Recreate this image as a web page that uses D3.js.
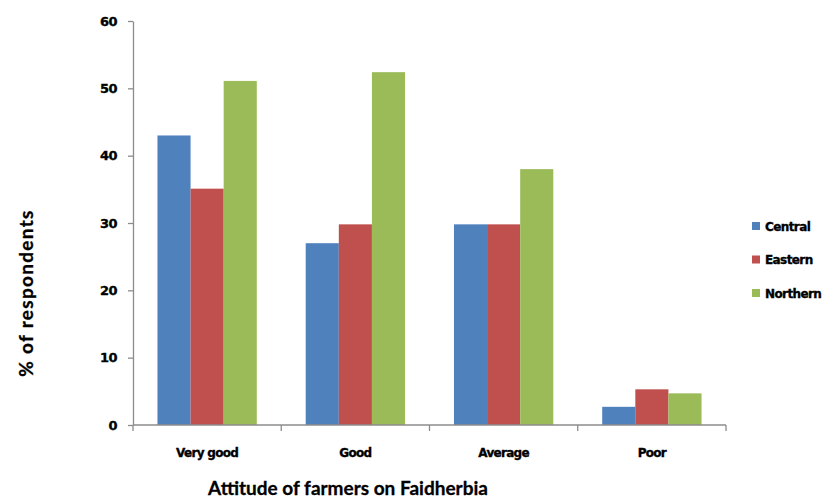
<!DOCTYPE html>
<html>
<head>
<meta charset="utf-8">
<script src="https://cdn.jsdelivr.net/npm/d3@7"></script>
<style>
  html, body { margin: 0; padding: 0; background: #fff; }
  svg { display: block; }
</style>
</head>
<body>
<svg id="chart" width="836" height="500"></svg>
<script>
// Survey responses: attitude of farmers towards Faidherbia, by region
const categories = ["Very good", "Good", "Average", "Poor"];
const seriesNames = ["Central", "Eastern", "Northern"];
const central  = [43.0, 27.0, 29.8, 2.7];
const eastern  = [35.1, 29.8, 29.8, 5.3];
const northern = [51.1, 52.4, 38.0, 4.7];
const yTicks = [0, 10, 20, 30, 40, 50, 60];
const colors = ["#4F81BD", "#C0504D", "#9BBB59"];

const seriesValues = [central, eastern, northern];

const svg = d3.select("#chart");
const plotLeft = 133, plotRight = 726, plotTop = 21, plotBottom = 425;
const axisColor = "#8c8c8c";

const x0 = d3.scaleBand()
  .domain(categories)
  .range([plotLeft, plotRight])
  .paddingInner(0.33)
  .paddingOuter(0.165);

const x1 = d3.scaleBand()
  .domain(seriesNames)
  .range([0, x0.bandwidth()]);

const y = d3.scaleLinear().domain([0, 60]).range([plotBottom, plotTop]);

// Bars
const groups = svg.append("g")
  .selectAll("g")
  .data(categories)
  .join("g")
  .attr("transform", d => `translate(${x0(d)},0)`);

groups.selectAll("rect")
  .data((c, i) => seriesNames.map((s, j) => ({ s, v: seriesValues[j][i], j })))
  .join("rect")
  .attr("x", d => x1(d.s))
  .attr("width", x1.bandwidth())
  .attr("y", d => y(d.v))
  .attr("height", d => y(0) - y(d.v))
  .attr("fill", d => colors[d.j]);

// Heavy label style shared by tick labels and legend
function heavy(sel, size, spacing) {
  sel.attr("fill", "#000")
    .attr("stroke", "#000")
    .attr("stroke-width", 0.35)
    .style("font-family", "'DejaVu Sans', sans-serif")
    .style("font-weight", "bold")
    .style("font-size", size + "px")
    .style("letter-spacing", spacing + "px");
}

// Y axis
const yAxis = svg.append("g")
  .attr("transform", `translate(${plotLeft},0)`)
  .call(d3.axisLeft(y).tickValues(yTicks).tickSize(5).tickPadding(11).tickSizeOuter(0));
yAxis.select(".domain").attr("stroke", axisColor).attr("stroke-width", 1.3);
yAxis.selectAll(".tick line").attr("stroke", axisColor).attr("stroke-width", 1.3);
yAxis.selectAll(".tick text").call(heavy, 13, -0.6);

// X axis: ticks sit on the category boundaries
const xAxisG = svg.append("g").attr("transform", `translate(0,${plotBottom})`);
xAxisG.append("line")
  .attr("x1", plotLeft).attr("x2", plotRight)
  .attr("y1", 0).attr("y2", 0)
  .attr("stroke", axisColor).attr("stroke-width", 1.3);
const step = x0.step();
const boundaries = d3.range(categories.length + 1).map(i => plotLeft + i * step);
xAxisG.selectAll("line.tick")
  .data(boundaries)
  .join("line")
  .attr("class", "tick")
  .attr("x1", d => d).attr("x2", d => d)
  .attr("y1", 0).attr("y2", 6)
  .attr("stroke", axisColor).attr("stroke-width", 1.3);
xAxisG.selectAll("text")
  .data(categories)
  .join("text")
  .attr("x", d => x0(d) + x0.bandwidth() / 2)
  .attr("y", 32)
  .attr("text-anchor", "middle")
  .call(heavy, 12, -0.7)
  .text(d => d);

// Axis titles
svg.append("text")
  .attr("x", 348)
  .attr("y", 495)
  .attr("text-anchor", "middle")
  .attr("fill", "#000")
  .attr("stroke", "#000")
  .attr("stroke-width", 0.3)
  .style("font-family", "Lato, 'Open Sans', sans-serif")
  .style("font-weight", "bold")
  .style("font-size", "19px")
  .text("Attitude of farmers on Faidherbia");

svg.append("text")
  .attr("transform", "translate(33,293) rotate(-90)")
  .attr("text-anchor", "middle")
  .attr("fill", "#000")
  .attr("stroke", "#000")
  .attr("stroke-width", 0.3)
  .style("font-family", "Lato, 'Open Sans', sans-serif")
  .style("font-weight", "bold")
  .style("font-size", "19px")
  .style("letter-spacing", "1.3px")
  .text("% of respondents");

// Legend
const legend = svg.append("g").attr("transform", "translate(752,226)");
const items = legend.selectAll("g")
  .data(seriesNames)
  .join("g")
  .attr("transform", (d, i) => `translate(0,${i * 33.5})`);
items.append("rect")
  .attr("x", 0).attr("y", -4)
  .attr("width", 8).attr("height", 8)
  .attr("fill", (d, i) => colors[i]);
items.append("text")
  .attr("x", 13)
  .attr("y", 4.5)
  .call(heavy, 12, -0.6)
  .text(d => d);
</script>
</body>
</html>
